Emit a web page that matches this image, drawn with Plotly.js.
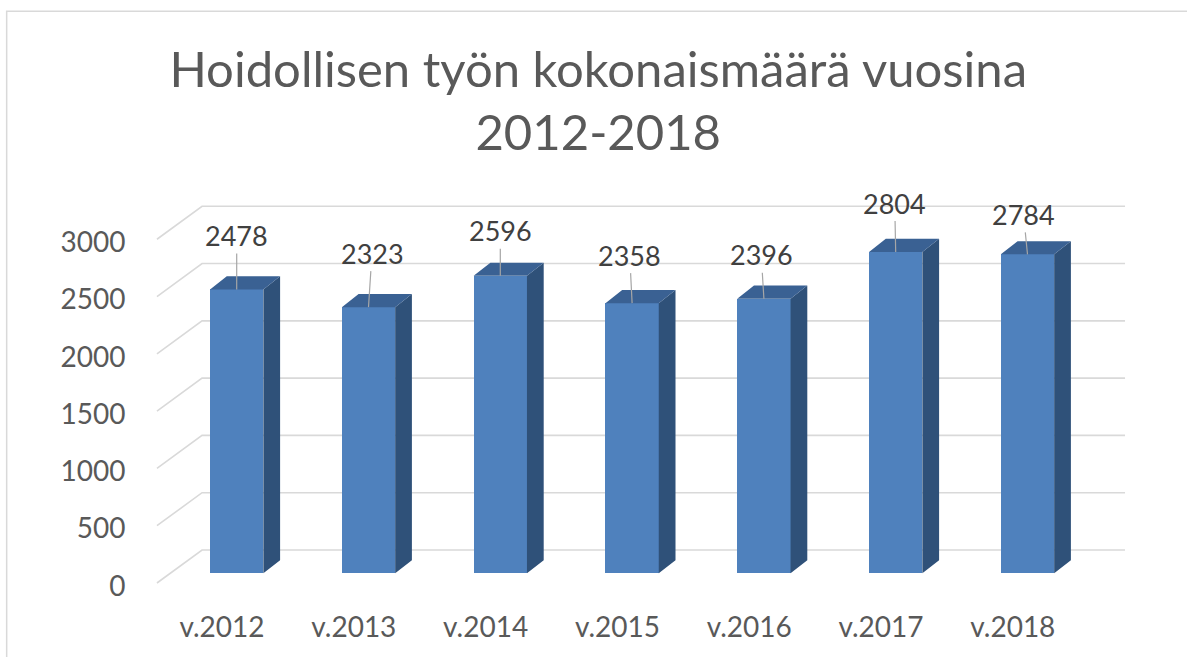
<!DOCTYPE html>
<html>
<head>
<meta charset="utf-8">
<script src="https://cdn.plot.ly/plotly-3.0.1.min.js"></script>
<style>html,body{margin:0;padding:0;background:#fff;}#chart{width:1187px;height:657px;}</style>
</head>
<body>
<div id="chart"></div>
<script>
// ---- data ----
const categories = ['v.2012', 'v.2013', 'v.2014', 'v.2015', 'v.2016', 'v.2017', 'v.2018'];
const values = [2478, 2323, 2596, 2358, 2396, 2804, 2784];
const yTicks = [0, 500, 1000, 1500, 2000, 2500, 3000];
const titleText = 'Hoidollisen työn kokonaismäärä vuosina<br>2012-2018';

// ---- style / geometry ----
const FONT = 'Lato, "Open Sans", sans-serif';
const FRONT = '#4f81bd', TOP = '#3a6193', SIDE = '#2f5179';
const BAR_W = 0.4045;          // bar width (category units)
const DEPTH_X = 0.127;         // bar depth, x component (category units)
const DEPTH_Y = 115;           // bar depth, y component (value units)
const WALL_FRONT_X = -0.605, WALL_BACK_X0 = -0.263, WALL_BACK_X1 = 6.74;
const WALL_FRONT_DY = -84.7, WALL_BACK_DY = 203.4;
const TICK_Y_SHIFT = -110, TICK_X_SHIFT = -0.1115;
const labelOffsets = [[0, -54], [3.5, -54], [0, -45], [-2.4, -48], [-2.7, -44], [-1, -49], [-4, -40]];

const xs = categories.map((c, i) => i);

// gridlines (floor-to-back-wall diagonals + back wall lines), drawn below the bars
const gridShapes = yTicks.map(v => ({
  type: 'path', xref: 'x', yref: 'y', layer: 'below',
  path: 'M' + WALL_FRONT_X + ',' + (v + WALL_FRONT_DY) +
        ' L' + WALL_BACK_X0 + ',' + (v + WALL_BACK_DY) +
        ' L' + WALL_BACK_X1 + ',' + (v + WALL_BACK_DY),
  line: {color: '#d9d9d9', width: 1.6}
}));

// side and top faces
const sx = [], sy = [], tx = [], ty = [];
values.forEach((v, i) => {
  const xl = i - BAR_W / 2, xr = i + BAR_W / 2;
  sx.push(xr, xr, xr + DEPTH_X, xr + DEPTH_X, xr, null);
  sy.push(0, v, v + DEPTH_Y, DEPTH_Y, 0, null);
  tx.push(xl, xr, xr + DEPTH_X, xl + DEPTH_X, xl, null);
  ty.push(v, v, v + DEPTH_Y, v + DEPTH_Y, v, null);
});

const traces = [
  {type: 'bar', x: xs, y: values, width: BAR_W, marker: {color: FRONT, line: {width: 0}}, hoverinfo: 'skip', showlegend: false},
  {type: 'scatter', mode: 'lines', x: sx, y: sy, fill: 'toself', fillcolor: SIDE, line: {width: 0, color: SIDE}, hoverinfo: 'skip', showlegend: false},
  {type: 'scatter', mode: 'lines', x: tx, y: ty, fill: 'toself', fillcolor: TOP, line: {width: 0, color: TOP}, hoverinfo: 'skip', showlegend: false}
];

const annotations = values.map((v, i) => ({
  x: i, y: v, xref: 'x', yref: 'y',
  text: String(v), showarrow: true, arrowhead: 0, arrowwidth: 1.2, arrowcolor: '#a6a6a6',
  ax: labelOffsets[i][0], ay: labelOffsets[i][1], standoff: 0,
  font: {family: FONT, size: 27, color: '#404040'}
}));

const layout = {
  width: 1187, height: 657,
  margin: {l: 140, r: 52, t: 180, b: 57},
  paper_bgcolor: '#ffffff', plot_bgcolor: 'rgba(0,0,0,0)',
  title: {text: titleText, font: {family: FONT, size: 49, color: '#595959'},
          x: 0.504, xref: 'container', y: 0.868, yref: 'container', yanchor: 'top'},
  xaxis: {range: [-0.7337, 6.8156], showgrid: false, zeroline: false, showline: false, automargin: false,
          tickvals: xs.map(i => i + TICK_X_SHIFT), ticktext: categories,
          ticks: 'outside', ticklen: 2, tickcolor: 'rgba(0,0,0,0)',
          tickfont: {family: FONT, size: 28, color: '#595959'}, fixedrange: true},
  yaxis: {range: [-233, 3432.6], showgrid: false, zeroline: false, showline: false, automargin: false,
          tickvals: yTicks.map(v => v + TICK_Y_SHIFT), ticktext: yTicks.map(String),
          ticks: 'outside', ticklen: 8, tickcolor: 'rgba(0,0,0,0)',
          tickfont: {family: FONT, size: 28, color: '#595959'}, fixedrange: true},
  annotations: annotations,
  shapes: [{type: 'rect', xref: 'paper', yref: 'paper', x0: -0.134, x1: 1.2, y0: -0.3, y1: 1.402,
            line: {color: '#d9d9d9', width: 1.5}, fillcolor: 'rgba(0,0,0,0)', layer: 'below'}].concat(gridShapes),
  showlegend: false,
  bargap: 0
};

Plotly.newPlot('chart', traces, layout, {displayModeBar: false, staticPlot: true});
</script>
</body>
</html>
